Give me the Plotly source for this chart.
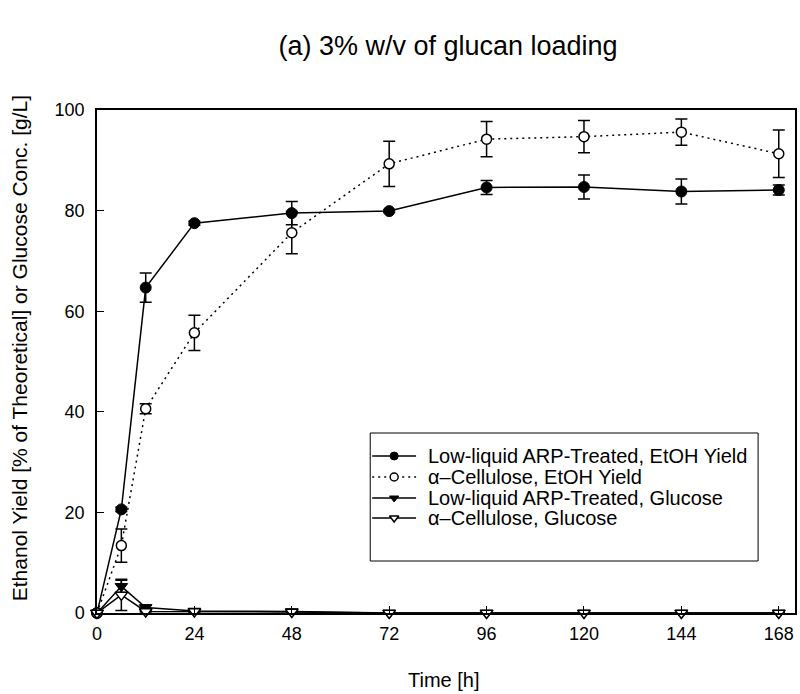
import plotly.graph_objects as go

# Sampling times [h]
time_h = [0, 6, 12, 24, 48, 72, 96, 120, 144, 168]

# Ethanol yield [% of theoretical]
arp_etoh = [0.0, 20.6, 64.7, 77.5, 79.5, 79.9, 84.6, 84.7, 83.8, 84.1]
arp_etoh_err = [0.0, 0.4, 2.9, 0.4, 2.3, 0.3, 1.4, 2.4, 2.5, 1.0]
cel_etoh = [0.0, 13.4, 40.6, 55.7, 75.6, 89.3, 94.2, 94.7, 95.6, 91.3]
cel_etoh_err = [0.0, 3.3, 1.0, 3.5, 4.2, 4.5, 3.5, 3.2, 2.6, 4.7]

# Glucose concentration [g/L]
arp_glu = [0.0, 5.3, 1.1, 0.4, 0.3, 0.0, 0.0, 0.0, 0.0, 0.0]
arp_glu_err = [0.0, 1.2, 0.5, 0.2, 0.1, 0.0, 0.0, 0.0, 0.0, 0.0]
cel_glu = [0.0, 3.6, 0.3, 0.3, 0.2, 0.0, 0.0, 0.0, 0.0, 0.0]
cel_glu_err = [0.0, 3.1, 0.1, 0.1, 0.1, 0.0, 0.0, 0.0, 0.0, 0.0]

x_ticks = [0, 24, 48, 72, 96, 120, 144, 168]
y_ticks = [0, 20, 40, 60, 80, 100]

series_names = [
    "Low-liquid ARP-Treated, EtOH Yield",
    "α–Cellulose, EtOH Yield",
    "Low-liquid ARP-Treated, Glucose",
    "α–Cellulose, Glucose",
]

FONT = "Liberation Sans, Arial, sans-serif"

# Figure geometry (pixels)
W, H = 800, 694
ML, MR, MT, MB = 97, 3, 110, 81
PW, PH = W - ML - MR, H - MT - MB


def px_x(px):
    return (px - ML) / PW


def px_y(py):
    return (H - MB - py) / PH


def err(vals):
    return dict(type="data", array=vals, visible=True, color="black",
                thickness=1.5, width=6)


styles = [
    dict(line=dict(color="black", width=1.5),
         marker=dict(symbol="circle", size=11, color="black",
                     line=dict(color="black", width=1))),
    dict(line=dict(color="black", width=1.5, dash="2px,4px"),
         marker=dict(symbol="circle", size=10, color="white",
                     line=dict(color="black", width=1.5))),
    dict(line=dict(color="black", width=1.5),
         marker=dict(symbol="triangle-down", size=11, color="black",
                     line=dict(color="black", width=1))),
    dict(line=dict(color="black", width=1.5),
         marker=dict(symbol="triangle-down", size=11, color="white",
                     line=dict(color="black", width=1.5))),
]

fig = go.Figure()

for name, ys, es, st in zip(series_names,
                            [arp_etoh, cel_etoh, arp_glu, cel_glu],
                            [arp_etoh_err, cel_etoh_err, arp_glu_err, cel_glu_err],
                            styles):
    fig.add_trace(go.Scatter(
        x=time_h, y=ys, error_y=err(es), name=name, mode="lines+markers",
        line=st["line"], marker=st["marker"], cliponaxis=False,
        showlegend=False,
    ))

# Legend box drawn by hand; key markers sit on an overlay axis measured in pixels
LEG_L, LEG_R, LEG_T, LEG_B = 371, 760, 433, 561
row_y = [456, 477, 498, 518]
shapes = [dict(type="rect", xref="paper", yref="paper",
               x0=px_x(LEG_L), x1=px_x(LEG_R), y0=px_y(LEG_B), y1=px_y(LEG_T),
               line=dict(color="black", width=1), fillcolor="white", layer="below")]
annotations = []
for name, ry, st in zip(series_names, row_y, styles):
    shapes.append(dict(type="line", xref="paper", yref="paper",
                       x0=px_x(373), x1=px_x(417), y0=px_y(ry), y1=px_y(ry),
                       line=dict(color="black", width=1.5,
                                 dash=st["line"].get("dash", "solid")),
                       layer="below"))
    annotations.append(dict(text=name, xref="paper", yref="paper",
                            x=px_x(427), y=px_y(ry), xanchor="left",
                            yanchor="middle", showarrow=False,
                            font=dict(family=FONT, size=20, color="black")))
    mk = dict(st["marker"])
    mk["size"] = 8
    fig.add_trace(go.Scatter(
        x=[395], y=[ry], mode="markers", marker=mk, xaxis="x2", yaxis="y2",
        showlegend=False, hoverinfo="skip", cliponaxis=False,
    ))

# Axis titles
annotations.append(dict(text="Time [h]", xref="paper", yref="paper",
                        x=px_x(445), y=px_y(680), xanchor="center",
                        yanchor="middle", showarrow=False,
                        font=dict(family=FONT, size=20, color="black")))
annotations.append(dict(text="Ethanol Yield [% of Theoretical] or Glucose Conc. [g/L]",
                        xref="paper", yref="paper", textangle=-90,
                        x=px_x(19), y=px_y(348), xanchor="center",
                        yanchor="middle", showarrow=False,
                        font=dict(family=FONT, size=21, color="black")))

axis_common = dict(
    showline=True, mirror=True, linecolor="black", linewidth=1.5,
    ticks="inside", ticklen=7, tickwidth=1, tickcolor="black",
    showgrid=False, zeroline=False,
    tickfont=dict(family=FONT, size=18, color="black"),
)

fig.update_layout(
    width=W, height=H,
    margin=dict(l=ML, r=MR, t=MT, b=MB),
    paper_bgcolor="white", plot_bgcolor="white",
    font=dict(family=FONT, color="black"),
    title=dict(text="(a) 3% w/v of glucan loading", x=0.56, xanchor="center",
               y=0.935, yanchor="middle",
               font=dict(family=FONT, size=27, color="black")),
    xaxis=dict(range=[0, 172], tickvals=x_ticks, ticklabelstandoff=4,
               **axis_common),
    yaxis=dict(range=[0, 100], tickvals=y_ticks, ticklabelstandoff=7,
               **axis_common),
    xaxis2=dict(range=[ML, W - MR], overlaying="x", visible=False,
                fixedrange=True),
    yaxis2=dict(range=[H - MB, MT], overlaying="y", visible=False,
                fixedrange=True),
    shapes=shapes,
    annotations=annotations,
    showlegend=False,
)

fig.write_html("out.html")
